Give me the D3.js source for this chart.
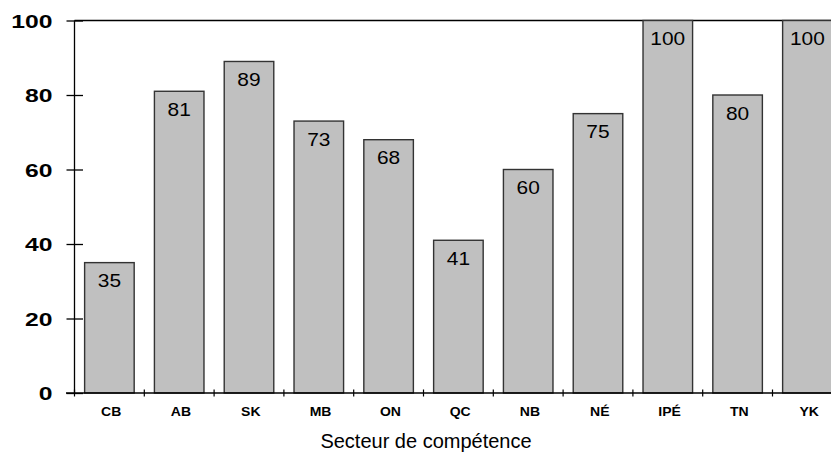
<!DOCTYPE html>
<html><head><meta charset="utf-8">
<script src="https://cdn.jsdelivr.net/npm/d3@7"></script>
<style>body{margin:0;background:#fff;}svg{display:block;}</style>
</head><body>
<svg id="c" width="831" height="454"></svg>
<script>
const categories = ["CB","AB","SK","MB","ON","QC","NB","NÉ","IPÉ","TN","YK"];
const values = [35,81,89,73,68,41,60,75,100,80,100];
const yTicks = [0,20,40,60,80,100];
const xTitle = "Secteur de compétence";

const svg = d3.select("#c");
const x0 = 74.5, x1 = 842.3, yTop = 20.5, yBot = 393;
const x = d3.scaleBand().domain(categories).range([x0, x1]).paddingInner(0.29).paddingOuter(0.145);
const xb = d3.scaleBand().domain(categories).range([x0, x1]);
const y = d3.scaleLinear().domain([0,100]).range([yBot, yTop]);
const font = "'Liberation Sans', Arial, sans-serif";

function stretch(sel, f) {
  sel.each(function() {
    const L = this.getComputedTextLength();
    d3.select(this).attr("textLength", L * f).attr("lengthAdjust", "spacingAndGlyphs");
  });
}

// top border line
svg.append("line").attr("x1", x0).attr("x2", 831).attr("y1", yTop).attr("y2", yTop)
  .attr("stroke", "#000").attr("stroke-width", 1.3);

// y axis
const yAxis = d3.axisLeft(y).tickValues(yTicks).tickSize(0).tickPadding(22);
const gy = svg.append("g").attr("transform", `translate(${x0},0)`).call(yAxis);
gy.select(".domain").attr("stroke", "#000").attr("stroke-width", 1.3).attr("d", `M0,${yTop}V${yBot}`);
gy.selectAll(".tick").append("line").attr("x1", -8).attr("x2", 8.5).attr("stroke", "#000").attr("stroke-width", 1.3);
gy.selectAll(".tick text").attr("font-family", font).attr("font-size", 19).attr("font-weight", "bold").attr("fill", "#000").attr("dy", "0.36em");
stretch(gy.selectAll(".tick text"), 1.3);

// bars
svg.selectAll("rect.bar").data(values).enter().append("rect")
  .attr("x", (d,i) => x(categories[i]))
  .attr("width", x.bandwidth())
  .attr("y", d => y(d))
  .attr("height", d => yBot - y(d))
  .attr("fill", "#c0c0c0").attr("stroke", "#333").attr("stroke-width", 1.4);

// value labels
const vl = svg.selectAll("text.val").data(values).enter().append("text")
  .attr("x", (d,i) => x(categories[i]) + x.bandwidth()/2)
  .attr("y", d => y(d) + 24.5)
  .attr("text-anchor", "middle")
  .attr("font-family", font).attr("font-size", 18.5).attr("fill", "#000")
  .text(d => d);
stretch(vl, 1.13);

// x axis baseline
svg.append("line").attr("x1", 66).attr("x2", 831).attr("y1", yBot).attr("y2", yBot)
  .attr("stroke", "#000").attr("stroke-width", 1.3);
// x ticks at band boundaries
const bounds = categories.map(c => xb(c));
svg.selectAll("line.xt").data(bounds).enter().append("line")
  .attr("x1", d => d).attr("x2", d => d).attr("y1", yBot - 3.5).attr("y2", yBot + 3.5)
  .attr("stroke", "#000").attr("stroke-width", 1.2);
// x labels
const xl = svg.selectAll("text.xl").data(categories).enter().append("text")
  .attr("x", d => xb(d) + xb.bandwidth()/2 + 1.8)
  .attr("y", 415.5)
  .attr("text-anchor", "middle")
  .attr("font-family", font).attr("font-size", 12.5).attr("font-weight", "bold").attr("fill", "#000")
  .text(d => d);
stretch(xl, 1.12);

// x title
svg.append("text").attr("x", 426).attr("y", 448)
  .attr("text-anchor", "middle")
  .attr("font-family", font).attr("font-size", 20).attr("fill", "#000")
  .text(xTitle);
</script>
</body></html>
